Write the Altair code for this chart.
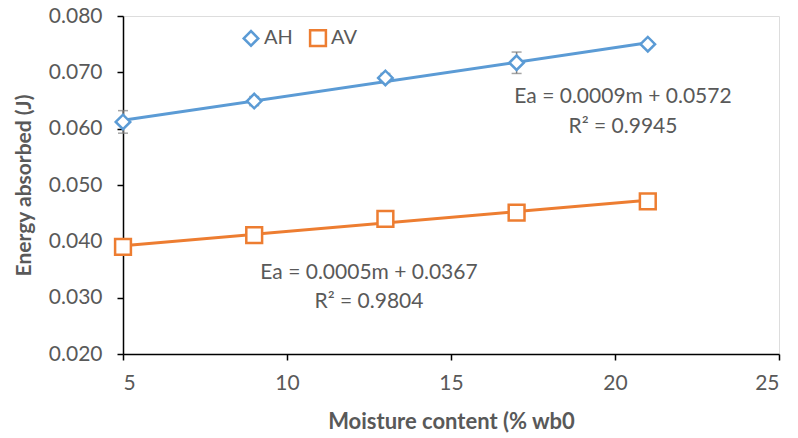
import altair as alt
import pandas as pd

moisture = [5, 9, 13, 17, 21]
ah_values = [0.0612, 0.0649, 0.0690, 0.0717, 0.0750]
ah_err = [0.0020, 0.0008, 0.0008, 0.0019, 0.0006]
av_values = [0.0390, 0.0411, 0.0440, 0.0451, 0.0471]
av_err = [0.0004, 0.0004, 0.0006, 0.0004, 0.0004]
series_names = ["AH", "AV"]
colors = ["#5B9BD5", "#ED7D31"]

rows = []
for s, vals, errs in [("AH", ah_values, ah_err), ("AV", av_values, av_err)]:
    for m, v, e in zip(moisture, vals, errs):
        rows.append({"m": m, "Ea": v, "lo": v - e, "hi": v + e, "series": s})
df = pd.DataFrame(rows)

FONT = "Lato"
GREY = "#595959"

xs = alt.Scale(domain=[5, 25], nice=False)
ys = alt.Scale(domain=[0.02, 0.08], nice=False, zero=False)
cs = alt.Scale(domain=series_names, range=colors)
shp = alt.Scale(domain=series_names, range=["diamond", "square"])
szs = alt.Scale(domain=series_names, range=[210, 250])

legend = alt.Legend(
    title=None, orient="none", legendX=118, legendY=12, direction="horizontal",
    labelFont=FONT, labelFontSize=20, labelColor=GREY, symbolStrokeWidth=2.5,
    symbolFillColor="white", columnPadding=12, labelOffset=3)

base = alt.Chart(df)

x_enc = alt.X("m:Q", scale=xs, axis=alt.Axis(
    values=[5, 10, 15, 20, 25], title="Moisture content (% wb0",
    titleFont=FONT, titleFontSize=22, titleFontWeight="bold", titleColor=GREY,
    titlePadding=18, labelFont=FONT, labelFontSize=21, labelColor=GREY,
    labelPadding=12, domainColor="black", domainWidth=1.5, tickColor="black",
    tickSize=6, tickWidth=1.5, grid=False))
y_enc = alt.Y("Ea:Q", scale=ys, axis=alt.Axis(
    values=[0.02, 0.03, 0.04, 0.05, 0.06, 0.07, 0.08], format=".3f",
    title="Energy absorbed (J)", titleFont=FONT, titleFontSize=21,
    titleFontWeight="bold", titleColor=GREY, titlePadding=14,
    labelFont=FONT, labelFontSize=21, labelColor=GREY, labelPadding=15,
    domainColor="black", domainWidth=1.5, tickColor="black", tickSize=6,
    tickWidth=1.5, grid=False))

trend = base.transform_regression(
    "m", "Ea", groupby=["series"], extent=[5, 21]
).mark_line(strokeWidth=3).encode(
    x=alt.X("m:Q", scale=xs), y=alt.Y("Ea:Q", scale=ys),
    stroke=alt.Stroke("series:N", scale=cs, legend=legend))

err_rule = base.mark_rule(color="#7F7F7F", strokeWidth=1.5).encode(
    x=alt.X("m:Q", scale=xs), y=alt.Y("lo:Q", scale=ys), y2="hi:Q")
cap_lo = base.mark_tick(color="#7F7F7F", orient="horizontal", size=10, thickness=1.5).encode(
    x=alt.X("m:Q", scale=xs), y=alt.Y("lo:Q", scale=ys))
cap_hi = base.mark_tick(color="#7F7F7F", orient="horizontal", size=10, thickness=1.5).encode(
    x=alt.X("m:Q", scale=xs), y=alt.Y("hi:Q", scale=ys))

points = base.mark_point(filled=True, fill="white", strokeWidth=2.5, opacity=1).encode(
    x=x_enc, y=y_enc,
    stroke=alt.Stroke("series:N", scale=cs, legend=legend),
    shape=alt.Shape("series:N", scale=shp, legend=legend),
    size=alt.Size("series:N", scale=szs, legend=legend),
)

def label(text, px, py):
    return alt.Chart(pd.DataFrame({"t": [text]})).mark_text(
        font=FONT, fontSize=21, color=GREY, align="center", baseline="middle"
    ).encode(text="t:N", x=alt.value(px), y=alt.value(py))

labels = (label("Ea = 0.0009m + 0.0572", 500, 81)
          + label("R² = 0.9945", 500, 111)
          + label("Ea = 0.0005m + 0.0367", 246, 257)
          + label("R² = 0.9804", 246, 286))

chart = alt.layer(trend, err_rule, cap_lo, cap_hi, points, labels).properties(
    width=656, height=338,
    autosize=alt.AutoSizeParams(type="none"),
    padding={"left": 123, "top": 16, "right": 19, "bottom": 84},
).configure_view(stroke=None).configure(background="white")

chart.save("out.html", embed_options={"renderer": "svg", "actions": False})
